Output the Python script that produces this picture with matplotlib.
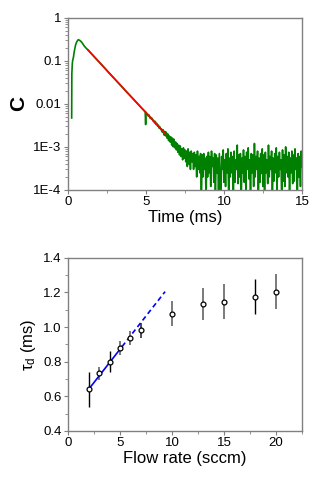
import numpy as np
import matplotlib
matplotlib.use("Agg")
import matplotlib.pyplot as plt
from matplotlib.ticker import FixedLocator, MultipleLocator, LogLocator, NullFormatter

plt.rcParams['font.family'] = ['Liberation Sans', 'DejaVu Sans']
plt.rcParams['mathtext.fontset'] = 'custom'
plt.rcParams['mathtext.rm'] = 'Liberation Sans'
plt.rcParams['mathtext.it'] = 'Liberation Sans'

# ---- top panel: decay trace C(t) ----
# rise and smooth decay
head_t = [0.24, 0.25, 0.28, 0.30, 0.35, 0.40, 0.45, 0.50, 0.55, 0.60, 0.66, 0.75, 0.85,
          0.95, 1.05, 1.15, 1.28, 1.50, 1.75, 2.00, 2.25, 2.50, 2.75, 3.00, 3.25, 3.50,
          3.75, 4.00, 4.25, 4.50, 4.75, 4.95, 4.98, 5.00, 5.05]
head_c = [0.0047, 0.05, 0.085, 0.10, 0.12, 0.16, 0.20, 0.24, 0.27, 0.29, 0.31, 0.30, 0.28,
          0.25, 0.22, 0.20, 0.18, 0.147, 0.117, 0.094, 0.075, 0.059, 0.047, 0.0377, 0.030, 0.024,
          0.019, 0.0153, 0.0122, 0.0097, 0.0078, 0.0066, 0.0033, 0.0064, 0.0060]

# noisy tail, 5.10 .. 15.00 ms, in units of 1e-4
tail_c_e4 = [58, 52, 55, 47, 49, 44, 46, 40, 41,
             36, 39, 33, 35, 30, 32, 27, 29, 25, 26,
             22, 25, 19, 23, 18, 22, 16, 20, 14, 18,
             13, 17, 11, 16, 10, 15, 9.5, 13, 8.5, 12,
             7.5, 11, 6.5, 10.5, 6, 9, 5, 9.5, 5.5, 8.5,
             4.5, 8, 3.5, 9, 4, 7.5, 3, 8, 4.5, 7,
             3, 7.5, 3.5, 6.5, 2, 8, 3, 6, 2.5, 7,
             0.5, 6.5, 2, 7, 3, 5.5, 0.6, 6, 2, 7.5,
             2.5, 6, 1.2, 8, 3.5, 5.5, 1.5, 7, 0.7, 6.5,
             2.5, 5.5, 1.0, 7, 2, 0.5, 6, 3, 8.5, 1.5,
             5, 1.2, 7, 2.5, 9, 0.6, 5.5, 2, 7.5, 2.5,
             6, 0.8, 8, 1.5, 5, 3, 11, 1.4, 6.5, 2,
             7, 0.4, 5.5, 2.5, 8.5, 1.5, 6, 1.0, 7.5, 3,
             9.5, 1.8, 5, 0.7, 7, 2.5, 6.5, 1.2, 12, 2,
             6, 3, 8, 0.5, 5.5, 1.5, 7, 2.4, 9, 1.2,
             6.5, 0.8, 7.5, 2.5, 5, 1.4, 11, 2, 6, 3,
             8, 0.6, 5.5, 1.6, 7, 2.5, 9.5, 1.0, 6, 2,
             7.5, 3, 5, 0.5, 8.5, 1.6, 6.5, 1.2, 10, 2.5,
             6, 2, 7.5, 0.7, 5.5, 2.5, 8, 1.4, 6.5, 1.6,
             9, 3, 5.5, 0.9, 7, 2, 6, 1.2, 8, 3.5]
tail_t = np.linspace(5.10, 15.0, len(tail_c_e4))

# exponential fit (straight on log axis)
fit_t = [1.28, 6.26]
fit_c = [0.18, 0.002]

# ---- bottom panel: tau_d vs flow rate ----
flow = [2, 3, 4, 5, 6, 7, 10, 13, 15, 18, 20]
tau = [0.641, 0.732, 0.800, 0.877, 0.937, 0.981, 1.078, 1.135, 1.147, 1.176, 1.205]
tau_err = [0.10, 0.04, 0.062, 0.04, 0.041, 0.043, 0.07, 0.092, 0.10, 0.10, 0.10]
bar_colors = ['black', '#707070', 'black', '#707070', '#707070', '#404040',
              '#707070', '#707070', '#707070', 'black', '#707070']

line_x_solid = [2.0, 5.2]
line_y_solid = [0.641, 0.887]
line_x_dash = [5.2, 9.34]
line_y_dash = [0.887, 1.205]

fig = plt.figure(figsize=(3.33, 4.82), dpi=100)
spine_col = '#808080'


def style_axes(ax):
    for s in ax.spines.values():
        s.set_color(spine_col)
        s.set_linewidth(1.0)
    ax.tick_params(which='major', direction='out', length=3, width=0.8, color=spine_col,
                   labelsize=9.5, pad=1.5, labelcolor='black')
    ax.tick_params(which='minor', direction='out', length=2, width=0.6, color=spine_col)


ax1 = fig.add_axes([0.204, 0.606, 0.703, 0.357])
ax1.plot(np.concatenate([head_t, tail_t]),
         np.concatenate([head_c, np.array(tail_c_e4) * 1e-4]),
         color='#008000', lw=1.2)
ax1.plot(fit_t, fit_c, color='#ff0000', lw=1.2)
ax1.set_yscale('log')
ax1.set_xlim(0, 15)
ax1.set_ylim(1e-4, 1)
ax1.xaxis.set_major_locator(MultipleLocator(5))
ax1.xaxis.set_minor_locator(MultipleLocator(2.5))
ax1.yaxis.set_major_locator(FixedLocator([1e-4, 1e-3, 1e-2, 1e-1, 1]))
ax1.set_yticklabels(['1E-4', '1E-3', '0.01', '0.1', '1'])
ax1.yaxis.set_minor_locator(LogLocator(base=10, subs=np.arange(2, 10)))
ax1.yaxis.set_minor_formatter(NullFormatter())
style_axes(ax1)
ax1.set_xlabel('Time (ms)', fontsize=12, labelpad=1)
ax1.set_ylabel('C', fontsize=15, fontweight='bold', labelpad=4)

ax2 = fig.add_axes([0.204, 0.106, 0.703, 0.359])
for x, y, e, c in zip(flow, tau, tau_err, bar_colors):
    ax2.errorbar(x, y, yerr=e, fmt='none', ecolor=c, elinewidth=1.3 if c != 'black' else 1.0,
                 capsize=0, zorder=2)
ax2.plot(line_x_solid, line_y_solid, color='#0000ff', lw=1.2, zorder=3)
ax2.plot(line_x_dash, line_y_dash, color='#0000ff', lw=1.2, ls=(0, (3, 2)), zorder=3)
ax2.plot(flow, tau, 'o', ms=3.5, mfc='white', mec='black', mew=0.9, ls='none', zorder=4)
ax2.set_xlim(0, 22.5)
ax2.set_ylim(0.4, 1.4)
ax2.xaxis.set_major_locator(MultipleLocator(5))
ax2.xaxis.set_minor_locator(MultipleLocator(2.5))
ax2.yaxis.set_major_locator(MultipleLocator(0.2))
ax2.yaxis.set_minor_locator(MultipleLocator(0.1))
ax2.yaxis.set_major_formatter(matplotlib.ticker.FormatStrFormatter('%.1f'))
style_axes(ax2)
ax2.set_xlabel('Flow rate (sccm)', fontsize=12, labelpad=1)
ax2.set_ylabel(r'$\tau_\mathrm{d}$ (ms)', fontsize=12, labelpad=4)

fig.savefig('out.png', dpi=100)
